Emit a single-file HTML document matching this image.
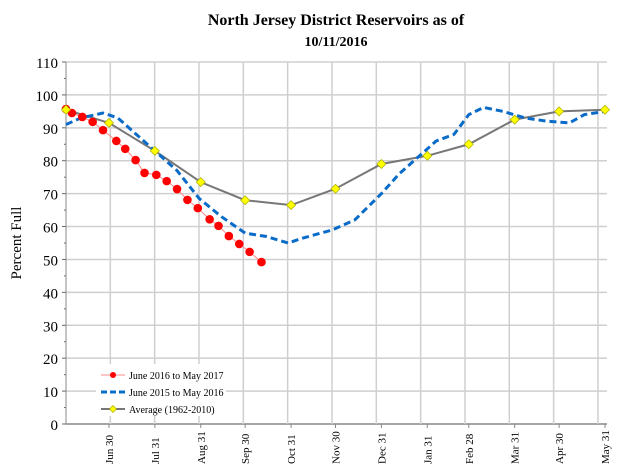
<!DOCTYPE html>
<html><head><meta charset="utf-8"><style>
body{margin:0;background:#fff;width:640px;height:470px;overflow:hidden}
svg{font-family:"Liberation Serif",serif}
</style></head><body>
<svg id="c" width="640" height="470">
<text x="336" y="25" text-anchor="middle" font-size="16" font-weight="bold">North Jersey District Reservoirs as of</text>
<text x="336" y="46" text-anchor="middle" font-size="14" font-weight="bold">10/11/2016</text>
<text transform="translate(21,243) rotate(-90)" text-anchor="middle" font-size="15">Percent Full</text>
<g id="grid"></g><g id="axes"></g><g id="series"></g><g id="legend"></g>
</svg>
<script>
const yTicks=[0,10,20,30,40,50,60,70,80,90,100,110];
const monthLabels=["Jun 30","Jul 31","Aug 31","Sep 30","Oct 31","Nov 30","Dec 31","Jan 31","Feb 28","Mar 31","Apr 30","May 31"];
const monthDays=[29,60,91,121,152,182,213,244,272,303,333,364];
const redDays=[0,4,11,18,25,34,40,47,53,61,68,75,82,89,97,103,110,117,124,132];
const redVals=[95.7,94.5,93.3,91.8,89.3,86.0,83.6,80.2,76.3,75.7,73.8,71.4,68.1,65.6,62.2,60.2,57.1,54.7,52.3,49.2];
const blueDays=[0,10,25,35,50,60,75,90,105,121,135,150,160,180,195,213,225,240,250,262,272,282,295,310,325,340,350,364];
const blueVals=[91,93,94.5,93,87,83,77,68.5,63,58,57,55,56.5,59,62,70,76,82,86,88,94,96.2,95,93,92,91.5,94,95];
const avgDays=[0,29,60,91,121,152,182,213,244,272,303,333,364];
const avgVals=[95.5,91.5,83,73.5,68,66.5,71.5,79,81.5,85,92.5,95,95.5];

const NS="http://www.w3.org/2000/svg";
const L=66,R=607,T=62,B=424;
const X=d=>L+d*(605-L)/364;
const Y=v=>B-v*(B-T)/110;
function mk(tag,attrs,parent){const e=document.createElementNS(NS,tag);for(const k in attrs)e.setAttribute(k,attrs[k]);document.getElementById(parent).appendChild(e);return e;}

yTicks.forEach(v=>{
  const g=mk('line',{x1:L,x2:R,y1:Y(v),y2:Y(v),stroke:v===0?'#888':'#cfcfcf','stroke-width':1.5},'grid');
  
  
  const t=mk('text',{x:L-8,y:Y(v)+6,'text-anchor':'end','font-size':15},'axes');
  t.textContent=v;
  
  
  mk('line',{x1:L-4,x2:L,y1:Y(v),y2:Y(v),stroke:'#666'},'axes');
  if(v<110) mk('line',{x1:L-2,x2:L,y1:Y(v+5),y2:Y(v+5),stroke:'#666'},'axes');
});
for(let k=1;k<=12;k++){
  const x=L+k*44.33;
  const g=mk('line',{x1:x,x2:x,y1:T,y2:B,stroke:'#cfcfcf','stroke-width':1.5},'grid');
  
  
}
mk('line',{x1:L,x2:L,y1:T,y2:B,stroke:'#888'},'axes');
monthDays.forEach((d,i)=>{
  const x=X(d);
  mk('line',{x1:x,x2:x,y1:B,y2:B+4,stroke:'#888'},'axes');
  const t=mk('text',{transform:`translate(${x+4},${B+40}) rotate(-90)`,'font-size':11},'axes');
  t.textContent=monthLabels[i];
  
  
});
function pts(ds,vs){return ds.map((d,i)=>X(d)+','+Y(vs[i])).join(' ');}
let p=mk('polyline',{points:pts(avgDays,avgVals),fill:'none',stroke:'#777','stroke-width':2},'series');


p=mk('polyline',{points:pts(blueDays,blueVals),fill:'none',stroke:'#0a6cc8','stroke-width':3,'stroke-dasharray':'7,4','stroke-linejoin':'round'},'series');


p=mk('polyline',{points:pts(redDays,redVals),fill:'none',stroke:'#f88','stroke-width':1},'series');


redDays.forEach((d,i)=>{
  const c=mk('circle',{cx:X(d),cy:Y(redVals[i]),r:4.3,fill:'#f00'},'series');
  
  
});
function diamond(x,y,s){return `${x},${y-s} ${x+s},${y} ${x},${y+s} ${x-s},${y}`;}
avgDays.forEach((d,i)=>{
  const c=mk('polygon',{points:diamond(X(d),Y(avgVals[i]),4.5),fill:'#ff0',stroke:'#aa0','stroke-width':0.7},'series');
  
  
});
const lg=[["June 2016 to May 2017",375],["June 2015 to May 2016",392],["Average (1962-2010)",409]];
mk('rect',{x:96,y:364,width:130,height:52,fill:'#fff'},'legend');
mk('line',{x1:101,x2:125,y1:375,y2:375,stroke:'#f88'},'legend');
mk('circle',{cx:113,cy:375,r:3,fill:'#f00'},'legend');
mk('line',{x1:101,x2:125,y1:392,y2:392,stroke:'#0a6cc8','stroke-width':3,'stroke-dasharray':'6,3'},'legend');
mk('line',{x1:101,x2:125,y1:409,y2:409,stroke:'#777','stroke-width':2},'legend');
mk('polygon',{points:diamond(113,409,3.5),fill:'#ff0',stroke:'#aa0','stroke-width':0.7},'legend');
lg.forEach(([s,y])=>{
  const t=mk('text',{x:129,y:y+4,'font-size':10},'legend');
  t.textContent=s;
  
  
});
</script>
</body></html>
